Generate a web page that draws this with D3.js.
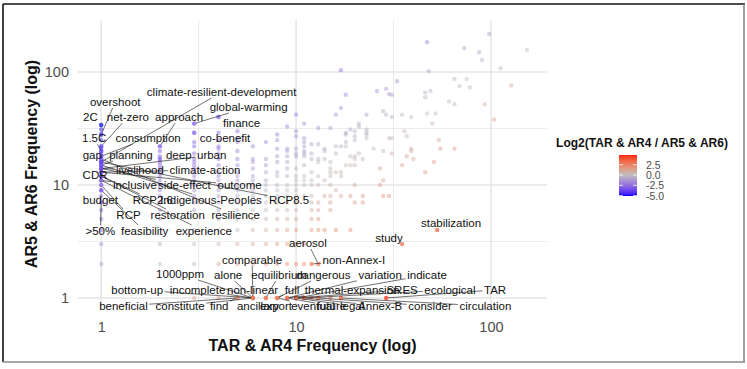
<!DOCTYPE html>
<html><head><meta charset="utf-8">
<script src="https://cdn.jsdelivr.net/npm/d3@7"></script>
<style>body{margin:0;background:#fff}svg text{font-family:"Liberation Sans",Arial,sans-serif}</style>
</head><body><svg id="c" width="747" height="369"></svg>
<script>
// ---------------- DATA ----------------
// Low-count grid: for TAR&AR4 frequency = columnTar[i], AR5&AR6 frequencies present
const columnTar = [1,2,3,4,5,6,7,8,9,10];
const columnAr = [
  [2,3,4,5,6,7,8,9,10,11,12,13,14,15,16,17,18,19,20,21,22,25,28,31,34],
  [2,3,5,6,7,8,9,10,11,12,13,14,15,16,17,18,20,22],
  [1,2,3,4,6,7,8,9,10,11,12,13,14,15,16,17,19,22,24,29,35],
  [1,2,3,4,5,6,7,8,9,10,11,12,13,15,17,19,21,22,25,29,40],
  [1,2,3,4,5,6,7,8,9,10,11,12,13,15,17,20,24,26,30],
  [1,2,3,4,5,6,7,8,9,10,11,12,14,16,17,22],
  [1,2,3,4,5,6,7,8,9,10,11,13,15,17,24],
  [1,2,3,4,5,6,7,8,9,10,12,13,16,18,21,25,28],
  [1,2,3,4,5,6,7,8,9,10,12,14,16,18,20,21,33],
  [1,2,3,4,5,6,7,8,9,10,11,12,14,18,19,21,27,30,42]
];
// Remaining words (TAR&AR4 freq, AR5&AR6 freq)
const wordTar = [98,47,73,87,90,153,48,112,17,33,65,75,69,78,127,26,29,30,31,18,46,49,46,61,65,93,17,28,47,52,16,23,29,35,31,39,104,11,50,21,13,15,21,36,19,20,23,18,23,18,23,20,37,11,30,31,23,54,20,18,11,12,13,11,16,17,18,14,25,39,55,65,11,14,28,39,11,16,21,31,12,11,20,37,12,13,14,22,20,40,19,13,15,51,11,18,19,20,35,15,27,12,15,16,17,46,11,13,15,17,11,12,14,28,11,12,13,15,20,27,16,11,12,14,15,17,19,22,28,30,12,13,15,20,22,12,13,15,12,13,12,13,14,16,19,11,11,12,13,11,12,13,15,17,29,53,35];
const wordAr  = [217,184,163,150,128,157,102,108,104,83,87,87,75,73,76,68,71,64,63,63,66,68,60,55,52,52,48,45,43,43,42,42,42,42,40,40,38,35,35,35,32,32,33,30,31,30,31,29,29,28,28,27,27,26,26,26,26,25,25,24,24,23,23,22,22,22,22,21,21,21,21,21,20,20,20,20,19,19,19,19,19,18,18,18,17,17,17,17,17,17,18,16,16,16,15,15,15,15,15,14,14,13,13,13,13,13,12,12,12,12,11,11,11,11,10,10,10,10,10,10,9,8,8,8,8,8,8,8,8,8,7,7,7,7,7,6,6,6,5,5,4,4,4,4,4,3,2,2,2,1,1,1,1,1,1,4,3];
// Labelled words
const labelWords = ["climate-resilient-development","overshoot","2C","net-zero","approach","global-warming","finance","1.5C","consumption","co-benefit","gap","planning","deep","urban","livelihood","climate-action","CDR","inclusive","side-effect","outcome","budget","RCP2.6","Indigenous-Peoples","RCP8.5","RCP","restoration","resilience",">50%","feasibility","experience","stabilization","study","aerosol","comparable","non-Annex-I","1000ppm","alone","equilibrium","dangerous","variation","indicate","bottom-up","incomplete","non-linear","full","thermal-expansion","SRES","ecological","TAR","beneficial","constitute","find","ancillary","export","eventual","future","legal","Annex-B","consider","circulation"];
const labelTar = [1,1,1,1,2,3,4,1,1,3,1,1,2,1,1,1,1,1,1,1,1,1,1,1,1,1,1,1,1,1,53,35,13,6,12,6,6,7,8,9,10,6,6,7,8,9,10,11,29,5,6,5,6,7,8,9,10,11,13,17];
const labelAr  = [16,28,34,22,22,35,40,20,18,29,16,15,17,14,14,13,12,11,14,13,9,12,15,16,10,12,17,7,9,11,4,3,2,1,2,1,1,1,1,1,1,1,1,1,1,1,1,1,1,1,1,1,1,1,1,1,1,1,1,1];
// Repelled label positions (data units, as placed by the label-repel layout)
const labelTextTar = [4.15,1.18,0.88,1.37,2.51,5.71,5.25,0.92,1.74,4.32,0.9,1.42,2.5,3.69,1.58,3.41,0.93,1.49,2.67,5.13,0.99,1.84,3.66,9.2,1.38,2.47,4.9,0.99,1.67,3.36,62.4,30,11.5,5.95,19.8,2.54,4.48,8.18,13.8,27,47,1.53,3.12,5.98,9.53,19.4,35,61.6,105,1.3,2.54,4.03,6.38,7.89,12.2,15.2,19.4,27,48.7,93.7];
const labelTextAr  = [66.5,54.3,40,40,40,49,35.4,26,26,26,18.4,18.4,18.4,18.4,13.6,13.6,12.3,10,10,10,7.37,7.37,7.37,7.37,5.43,5.43,5.43,3.92,3.92,3.92,4.61,3.4,3.07,2.17,2.17,1.63,1.6,1.6,1.6,1.6,1.6,1.18,1.18,1.18,1.18,1.18,1.18,1.18,1.18,0.85,0.85,0.85,0.85,0.85,0.85,0.85,0.85,0.85,0.85,0.85];
const axisTicks = [1,10,100];
const minorTicks = [Math.sqrt(10), Math.sqrt(1000)];
const legendTicks = [2.5,0,-2.5,-5];
const xTitle = "TAR & AR4 Frequency (log)";
const yTitle = "AR5 & AR6 Frequency (log)";
const legendTitle = "Log2(TAR & AR4 / AR5 & AR6)";

// ---------------- BUILD ----------------
const pts = [];
columnTar.forEach((t,i)=>columnAr[i].forEach(a=>pts.push({t,a})));
wordTar.forEach((t,i)=>pts.push({t,a:wordAr[i]}));
labelTar.forEach((t,i)=>pts.push({t,a:labelAr[i]}));
pts.forEach(p=>p.v=Math.log2(p.t/p.a));
const lim = d3.extent(pts,p=>p.v);
const m = Math.max(-lim[0], lim[1]);
const color = d3.scaleLinear().domain([-m,0,m]).range(["#0000ff","#bebebe","#ff0000"]).interpolate(d3.interpolateLab);

const svg = d3.select("#c");
const L=78,R=547,T=20,B=308;
const x = d3.scaleLog().domain([0.76,194]).range([L,R]);
const y = d3.scaleLog().domain([0.816,289]).range([B,T]);

// frame
svg.append("line").attr("x1",3).attr("x2",745).attr("y1",4).attr("y2",4).attr("stroke","#111").attr("stroke-width",1.6);
svg.append("line").attr("x1",3).attr("x2",3).attr("y1",4).attr("y2",362).attr("stroke","#111").attr("stroke-width",1.6);
svg.append("line").attr("x1",744).attr("x2",744).attr("y1",4).attr("y2",362).attr("stroke","#8a8a8a").attr("stroke-width",1.6);
svg.append("line").attr("x1",3).attr("x2",745).attr("y1",362).attr("y2",362).attr("stroke","#8a8a8a").attr("stroke-width",1.6);

// grid
const g = svg.append("g");
minorTicks.forEach(v=>{
  g.append("line").attr("x1",x(v)).attr("x2",x(v)).attr("y1",T).attr("y2",B).attr("stroke","#ebebeb").attr("stroke-width",1);
  g.append("line").attr("y1",y(v)).attr("y2",y(v)).attr("x1",L).attr("x2",R).attr("stroke","#ebebeb").attr("stroke-width",1);
});
axisTicks.forEach(v=>{
  g.append("line").attr("x1",x(v)).attr("x2",x(v)).attr("y1",T).attr("y2",B).attr("stroke","#e6e6e6").attr("stroke-width",1.6);
  g.append("line").attr("y1",y(v)).attr("y2",y(v)).attr("x1",L).attr("x2",R).attr("stroke","#e6e6e6").attr("stroke-width",1.6);
});

// axes (tick labels only)
const xa = svg.append("g").attr("transform",`translate(0,${B+10})`).call(d3.axisBottom(x).tickValues(axisTicks).tickFormat(d3.format("d")).tickSize(0));
xa.select(".domain").remove();
xa.selectAll("text").attr("font-size",14.5).attr("fill","#4d4d4d").attr("dy","0.75em").attr("font-family","Liberation Sans, Arial, sans-serif");
const ya = svg.append("g").attr("transform",`translate(${L-6},0)`).call(d3.axisLeft(y).tickValues(axisTicks).tickFormat(d3.format("d")).tickSize(0));
ya.select(".domain").remove();
ya.selectAll("text").attr("font-size",14.5).attr("fill","#4d4d4d").attr("font-family","Liberation Sans, Arial, sans-serif");

svg.append("text").attr("x",(L+R)/2).attr("y",351).attr("text-anchor","middle").attr("font-size",16).attr("font-weight","bold").attr("fill","#111").text(xTitle);
svg.append("text").attr("transform",`translate(37,${(T+B)/2}) rotate(-90)`).attr("text-anchor","middle").attr("font-size",16).attr("font-weight","bold").attr("fill","#111").text(yTitle);

// points
svg.append("g").selectAll("circle").data(pts).join("circle")
  .attr("cx",d=>x(d.t)).attr("cy",d=>y(d.a)).attr("r",2.2)
  .attr("fill",d=>color(d.v)).attr("fill-opacity",0.45);

// labels with segments
const lg = svg.append("g");
const segG = lg.append("g"), txtG = lg.append("g");
labelWords.forEach((w,i)=>{
  const cx = x(labelTextTar[i]), cy = y(labelTextAr[i]);
  const px = x(labelTar[i]), py = y(labelAr[i]);
  const t = txtG.append("text").attr("x",cx).attr("y",cy).attr("text-anchor","middle").attr("dominant-baseline","central")
    .attr("font-size",11.5).attr("fill","#111").text(w);
  const bb = t.node().getBBox();
  const hw = bb.width/2+1.5, hh = bb.height/2;
  const dx = px-cx, dy = py-cy;
  const tx = dx!==0 ? hw/Math.abs(dx) : Infinity;
  const ty = dy!==0 ? hh/Math.abs(dy) : Infinity;
  const s = Math.min(tx,ty);
  if (s>=1) return;
  const sx = cx+dx*s, sy = cy+dy*s;
  const len = Math.hypot(px-sx,py-sy);
  if (len<5) return;
  const ex = px-(px-sx)/len*2, ey = py-(py-sy)/len*2;
  segG.append("line").attr("x1",sx).attr("y1",sy).attr("x2",ex).attr("y2",ey).attr("stroke","#111").attr("stroke-width",0.6);
});

// legend
const defs = svg.append("defs");
const grad = defs.append("linearGradient").attr("id","lgd").attr("x1",0).attr("x2",0).attr("y1",1).attr("y2",0);
d3.range(0,1.0001,0.05).forEach(f=>{
  const v = lim[0]+(lim[1]-lim[0])*f;
  grad.append("stop").attr("offset",f).attr("stop-color",color(v));
});
const lY = d3.scaleLinear().domain(lim).range([196,155]);
svg.append("text").attr("x",642).attr("y",147).attr("text-anchor","middle").attr("font-size",12).attr("font-weight","bold").attr("fill","#111").text(legendTitle);
svg.append("rect").attr("x",619).attr("y",155).attr("width",18).attr("height",41).attr("fill","url(#lgd)");
legendTicks.forEach(v=>{
  svg.append("line").attr("x1",619).attr("x2",623).attr("y1",lY(v)).attr("y2",lY(v)).attr("stroke","#fff").attr("stroke-width",0.8);
  svg.append("line").attr("x1",633).attr("x2",637).attr("y1",lY(v)).attr("y2",lY(v)).attr("stroke","#fff").attr("stroke-width",0.8);
  svg.append("text").attr("x",646).attr("y",lY(v)).attr("dominant-baseline","central").attr("font-size",10.5).attr("fill","#4d4d4d").text(v.toFixed(1));
});
</script></body></html>
